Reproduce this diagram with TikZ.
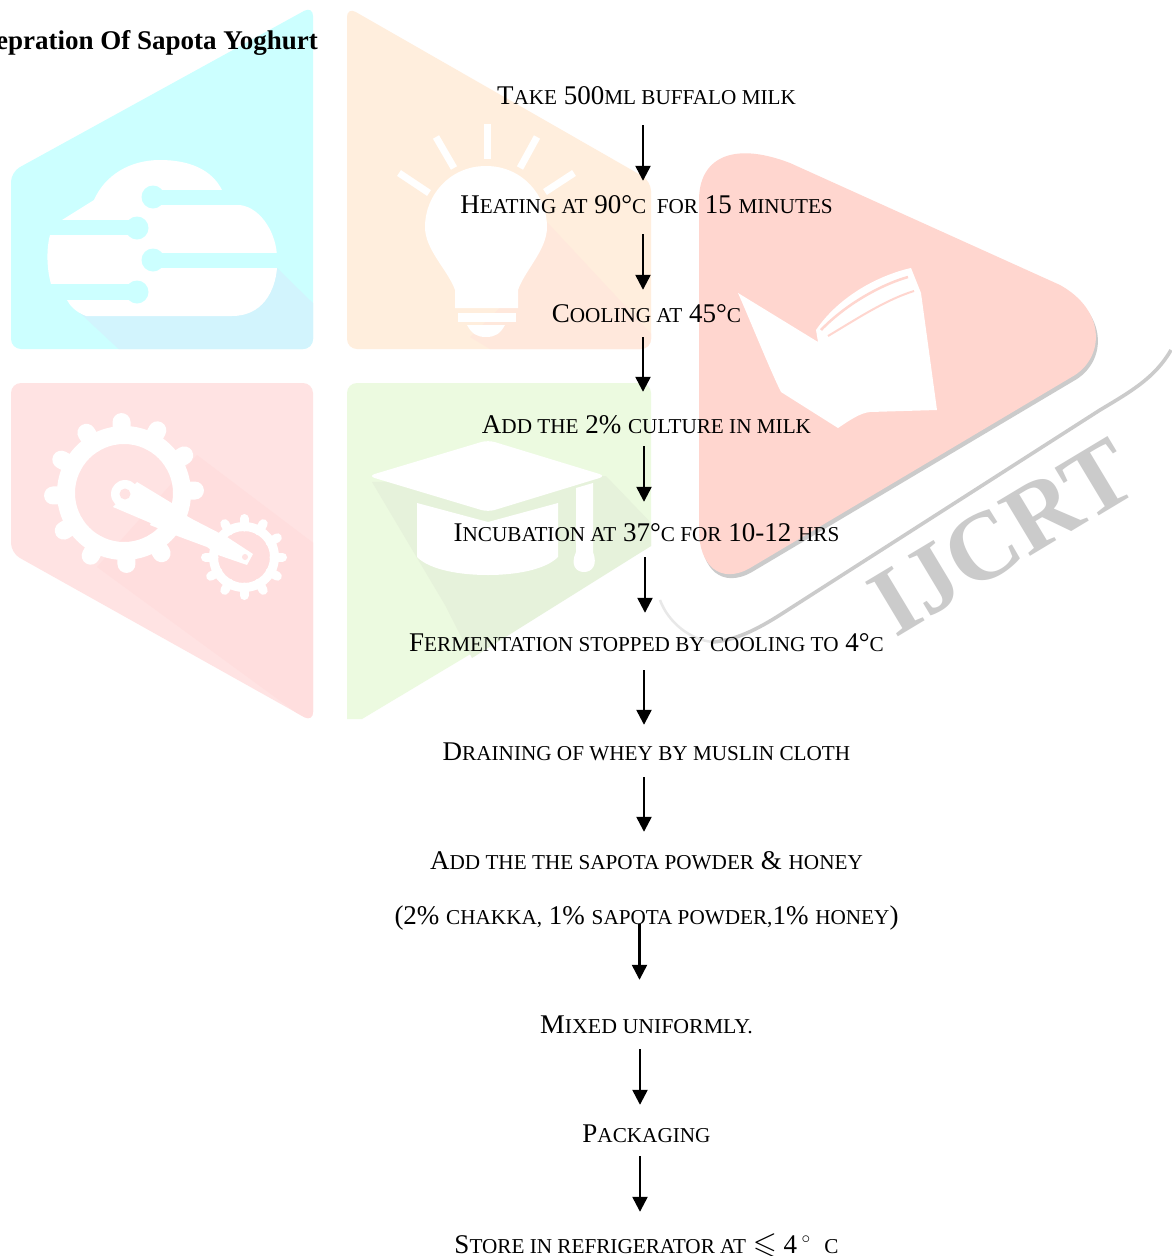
\documentclass[tikz,border=0pt]{standalone}
\usepackage{amssymb}
\usepackage{fontspec}
\setmainfont{Liberation Serif}
\usetikzlibrary{arrows.meta}
\newcommand\smc[1]{{\fontsize{21.2}{22}\selectfont #1}}
\definecolor{wcyan}{HTML}{CCFFFF}
\definecolor{wcyans}{HTML}{D2F4FD}
\definecolor{wpeach}{HTML}{FFEEDD}
\definecolor{wpeachs}{HTML}{FFE8DC}
\definecolor{wpink}{HTML}{FFE3E3}
\definecolor{wpinks}{HTML}{FFDEDE}
\definecolor{wgreen}{HTML}{ECFAE0}
\definecolor{wgreens}{HTML}{E6F2DB}
\definecolor{wred}{HTML}{FFD6CF}
\definecolor{wgrey}{HTML}{CBCBCB}
\tikzset{
  x=1pt,y=1pt,
  steptext/.style={anchor=base,inner sep=0pt,text height=20pt,text depth=5pt,font=\fontsize{27}{28}\selectfont,text=black},
  flow/.style={line width=2.4pt,-{Triangle[length=15pt,width=15pt]}},
  ray/.style={white,line width=7pt},
}
\newcommand\flowarrow[5]{\draw[flow,shorten <=#4pt,shorten >=#5pt] ([xshift=#3pt]#1.south) -- ([xshift=#3pt]#2.north);}
\begin{document}
\begin{tikzpicture}
\useasboundingbox (0,0) rectangle (1171,-1256);
\fill[white] (0,0) rectangle (1171,-1256);
\begin{scope}[yscale=-1]
% cyan panel
\begin{scope}
\clip[rounded corners=10pt] (313,6) -- (313,349) -- (11,349) -- (11,172) -- cycle;
\fill[wcyan] (0,0) rectangle (320,355);
\fill[wcyans] (277,268) -- (320,310) -- (320,355) -- (125,355) -- (80,313) -- cycle;
\end{scope}
\fill[white] (62,220) -- (94,200) .. controls (105,175) and (130,160) .. (160,160) .. controls (190,160) and (212,170) .. (222,190) -- (225,205) -- (240,205) .. controls (262,208) and (277,235) .. (277,258) -- (277,268) .. controls (275,292) and (262,316) .. (232,316) -- (86,316) .. controls (76,312) and (70,306) .. (67,300) -- (51,284) .. controls (47,270) and (46,250) .. (50,235) -- cycle;
\fill[wcyan] (153,190) rectangle (226,205);
\fill[wcyan] (153,197) circle (11.5);
\fill[wcyan] (40,220) rectangle (137,235);
\fill[wcyan] (137,228) circle (11.5);
\fill[wcyan] (153,253) rectangle (280,268);
\fill[wcyan] (153,260) circle (11.5);
\fill[wcyan] (40,284) rectangle (137,300);
\fill[wcyan] (137,292) circle (11.5);
% peach panel
\begin{scope}
\clip[rounded corners=10pt] (347,7) -- (651,181) -- (651,349) -- (347,349) -- cycle;
\fill[wpeach] (340,0) rectangle (655,355);
\fill[wpeachs] (547,222) -- (655,338) -- (655,355) -- (500,355) -- (470,337) -- (518,290) -- cycle;
\end{scope}
\draw[ray] (487,124) -- (487,159);
\draw[ray] (436,137) -- (454,168);
\draw[ray] (537,137) -- (520,168);
\draw[ray] (399,173) -- (429,193);
\draw[ray] (574,173) -- (545,192);
\fill[white] (486,166) .. controls (450,166) and (425,195) .. (425,227) .. controls (425,250) and (448,270) .. (455,290) -- (455,308) -- (518,308) -- (518,290) .. controls (525,270) and (547,250) .. (547,227) .. controls (547,195) and (522,166) .. (486,166) -- cycle;
\fill[white] (458,313) rectangle (516,322);
\fill[white] (467,325) -- (505,325) .. controls (500,334) and (495,337) .. (486,337) .. controls (477,337) and (472,334) .. (467,325) -- cycle;
% pink panel
\begin{scope}
\clip[rounded corners=10pt] (11,383) -- (313,383) -- (313,722) -- (11,553) -- cycle;
\fill[wpink] (0,375) rectangle (320,730);
\fill[wpinks] (197,455) -- (320,548) -- (320,730) -- (97,567) -- cycle;
\end{scope}
\foreach \a in {2,32,...,332} {\draw[white,line width=18pt,line cap=round] (124,493) ++(-\a:58) -- ++(-\a:13);}
\fill[white,even odd rule] (124,493) circle (67) (124,493) circle (49);
\foreach \a in {0,30,...,330} {\draw[white,line width=9pt,line cap=round] (244,557) ++(\a:30) -- ++(\a:8.5);}
\fill[white,even odd rule] (244,557) circle (35) (244,557) circle (26);
\fill[white] (125,494) circle (14);
\fill[white] (137,482) -- (175,505) -- (160,527) -- (113,507) -- cycle;
\fill[white] (160,500) -- (190,518) -- (227,537) -- (253,554) -- (247,565) -- (218,555) -- (207,547) -- (180,537) -- (150,525) -- cycle;
\fill[wpink] (125,494) circle (5.5);
\fill[wpink] (245,557) circle (3);
% green panel
\begin{scope}
\clip[rounded corners=10pt] (347,383) -- (651,383) -- (651,600) -- (347,800) -- cycle;
\fill[wgreen] (340,375) -- (655,375) -- (655,543.5) -- (362,719) -- (340,719) -- cycle;
\fill[wgreens] (372,482) -- (445,605) -- (472,658) -- (655,543.5) -- (655,527) -- (606,476) -- cycle;
\end{scope}
\fill[white,rounded corners=7pt] (368,476) -- (488,440) -- (606,476) -- (488,512) -- cycle;
\fill[white] (417,503) -- (488,522) -- (558,503) -- (558,557) .. controls (545,570) and (515,575) .. (488,575) .. controls (460,575) and (430,570) .. (417,557) -- cycle;
\fill[white] (576,488) -- (593,483) -- (593,552) .. controls (598,565) and (592,572) .. (584,572) .. controls (576,572) and (570,565) .. (576,552) -- cycle;
% red triangle with shadow
\fill[wgrey,xshift=2pt,yshift=4pt] (699,200) .. controls (699,160) and (730,140) .. (790,163) -- (1060,285) .. controls (1105,310) and (1105,355) .. (1075,375) -- (750,568) .. controls (720,585) and (699,565) .. (699,530) -- cycle;
\fill[white] (690,530) rectangle (701,600);
\fill[wred] (699,200) .. controls (699,160) and (730,140) .. (790,163) -- (1060,285) .. controls (1105,310) and (1105,355) .. (1075,375) -- (750,568) .. controls (720,585) and (699,565) .. (699,530) -- cycle;
\fill[white] (738,293) -- (818,342) -- (816,330) .. controls (840,295) and (880,275) .. (911,268) -- (921,293) -- (937,410) -- (870,412) .. controls (860,413) and (850,420) .. (838,428) -- (781,392) .. controls (770,370) and (750,320) .. (738,293) -- cycle;
\draw[wred,line width=2.5pt] (821,330) .. controls (845,305) and (880,285) .. (908,277);
\draw[wred,line width=2pt] (828,336) .. controls (855,320) and (885,300) .. (914,291);
% swoosh
\draw[wgrey!45,line width=2.5pt] (713,642) .. controls (690,640) and (668,622) .. (660,600);
\draw[wgrey,line width=3.6pt] (1171,350) .. controls (1155,378) and (1130,392) .. (1100,410) -- (783,613) .. controls (755,631) and (735,640) .. (713,642);
\end{scope}
% IJCRT mark
\node[anchor=center,rotate=31,text=wgrey,inner sep=0pt,font=\fontsize{97}{97}\selectfont\bfseries] (mark) at (1002,-537) {IJCRT};
% heading
\node[anchor=base east,inner sep=0pt,font=\fontsize{27}{28}\selectfont\bfseries] (title) at (318,-49) {epration Of Sapota Yoghurt};
% steps
\node[steptext] (s1) at (646.5,-104) {T\smc{AKE} 500\smc{ML BUFFALO MILK}};
\node[steptext] (s2) at (646.5,-213) {H\smc{EATING AT} 90°\smc{C\ \ FOR} 15 \smc{MINUTES}};
\node[steptext] (s3) at (646.5,-322) {C\smc{OOLING AT} 45°\smc{C}};
\node[steptext] (s4) at (646.5,-433) {A\smc{DD THE} 2\% \smc{CULTURE IN MILK}};
\node[steptext] (s5) at (646.5,-541) {I\smc{NCUBATION AT} 37°\smc{C FOR} 10-12 \smc{HRS}};
\node[steptext] (s6) at (646.5,-651) {F\smc{ERMENTATION STOPPED BY COOLING TO} 4°\smc{C}};
\node[steptext] (s7) at (646.5,-760) {D\smc{RAINING OF WHEY BY MUSLIN CLOTH}};
\node[steptext] (s8) at (646.5,-869) {A\smc{DD THE THE SAPOTA POWDER} \& \smc{HONEY}};
\node[steptext] (s9) at (646.5,-924) {(2\% \smc{CHAKKA,} 1\% \smc{SAPOTA POWDER,}1\% \smc{HONEY})};
\node[steptext] (s10) at (646.5,-1033) {\scalebox{1.03}[1]{M\smc{IXED UNIFORMLY.}}};
\node[steptext] (s11) at (646.5,-1142) {P\smc{ACKAGING}};
\node[steptext] (s12) at (646.5,-1253) {S\smc{TORE IN REFRIGERATOR AT} {\fontsize{31}{31}\selectfont$\leqslant$} 4\,$^{\circ}$\ \ \smc{C}};
% arrows
\flowarrow{s1}{s2}{-3.5}{16}{12}
\flowarrow{s2}{s3}{-3.5}{16}{12}
\flowarrow{s3}{s4}{-3.5}{10}{21}
\flowarrow{s4}{s5}{-2.5}{8}{19}
\flowarrow{s5}{s6}{-1.5}{11}{18}
\flowarrow{s6}{s7}{-2.5}{14}{15}
\flowarrow{s7}{s8}{-2.5}{12}{17}
\flowarrow{s9}{s10}{-7}{-5}{33}
\flowarrow{s10}{s11}{-6.5}{11}{17}
\flowarrow{s11}{s12}{-6.5}{9}{21}
\end{tikzpicture}
\end{document}
